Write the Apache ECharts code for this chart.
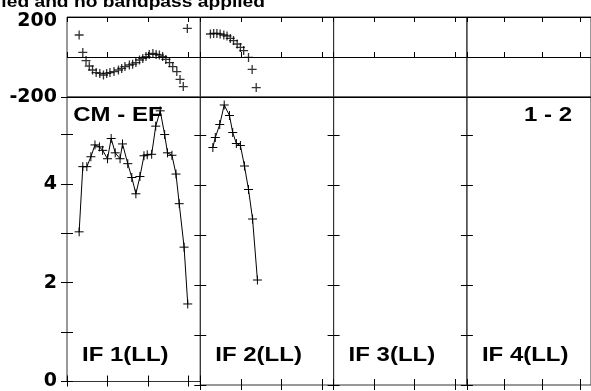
<!DOCTYPE html>
<html><head><meta charset="utf-8">
<script src="https://cdn.jsdelivr.net/npm/echarts@6/dist/echarts.min.js"></script>
<style>html,body{margin:0;padding:0;background:#fff}#c{width:591px;height:391px}</style>
</head><body><div id="c"></div>
<script>
// ---- data ----
const ifLabels = ['IF 1(LL)', 'IF 2(LL)', 'IF 3(LL)', 'IF 4(LL)'];
const baselineLabel = '1 - 2';
const sourceLabel = 'CM - EF';
const titleText = 'No calibration applied and no bandpass applied';

const phaseFreq1 = [0.30,0.39,0.47,0.55,0.63,0.72,0.81,0.90,0.98,1.06,1.16,1.27,1.35,1.43,1.54,1.62,1.70,1.79,1.87,1.95,2.03,2.12,2.20,2.28,2.36,2.44,2.53,2.61,2.71,2.79,2.87,2.97];
const phaseVal1  = [110,23,-18,-45,-65,-78,-82,-90,-82,-78,-73,-65,-57,-48,-40,-36,-28,-15,-7,2,13,18,13,10,2,-12,-28,-48,-73,-112,-148,143];
const phaseFreq2 = [0.25,0.33,0.41,0.49,0.58,0.66,0.74,0.82,0.91,0.99,1.07,1.19,1.28,1.38];
const phaseVal2  = [115,118,118,115,110,105,93,82,65,48,32,-2,-62,-153];

const ampFreq1 = [0.30,0.39,0.49,0.59,0.69,0.80,0.88,1.00,1.09,1.19,1.31,1.37,1.50,1.60,1.70,1.80,1.90,1.98,2.09,2.19,2.30,2.41,2.48,2.59,2.69,2.77,2.89,2.98];
const ampVal1  = [3.03,4.35,4.35,4.55,4.79,4.75,4.68,4.51,4.92,4.63,4.51,4.81,4.41,4.13,3.80,4.15,4.57,4.59,4.60,5.17,5.48,5.00,4.63,4.58,4.20,3.60,2.72,1.57];
const ampFreq2 = [0.31,0.37,0.48,0.59,0.72,0.80,0.89,0.99,1.09,1.19,1.29,1.41];
const ampVal2  = [4.75,4.95,5.21,5.60,5.39,5.05,4.83,4.79,4.38,3.91,3.32,2.10];

const phaseTickValues = [-200, 200];
const ampTickLabelValues = [0, 2, 4];

// ---- layout ----
const L = 67, W = 133.3, PT = 17, PH = 80, AT = 97, AH = 288;
const XMAX = 3.29, AMAX = 5.76;
const plus = 'path://M0,5L10,5M5,0L5,10';
const axisFont = {fontFamily: 'DejaVu Sans', fontWeight: 'bold', fontSize: 19, color: '#000'};

const phaseData = [
  phaseFreq1.map((f, k) => [f, phaseVal1[k]]),
  phaseFreq2.map((f, k) => [f, phaseVal2[k]]),
  [], []
];
const ampData = [
  ampFreq1.map((f, k) => [f, ampVal1[k]]),
  ampFreq2.map((f, k) => [f, ampVal2[k]]),
  [], []
];

const grid = [], xAxis = [], yAxis = [], series = [], graphic = [];
for (let i = 0; i < 4; i++) {
  const left = L + i * W;
  grid.push({left: left, top: PT, width: W, height: PH, show: true, borderColor: '#333', borderWidth: 1, backgroundColor: 'transparent'});
  grid.push({left: left, top: AT, width: W, height: AH, show: true, borderColor: '#333', borderWidth: 1, backgroundColor: 'transparent'});
  const xBase = {type: 'value', min: 0, max: XMAX, interval: 1,
    axisLine: {show: false}, axisLabel: {show: false}, splitLine: {show: false},
    axisTick: {show: true, inside: true, length: 5, lineStyle: {color: '#000', width: 1}}};
  xAxis.push(Object.assign({}, xBase, {gridIndex: 2 * i, position: 'bottom'}));
  xAxis.push(Object.assign({}, xBase, {gridIndex: 2 * i, position: 'top'}));
  xAxis.push(Object.assign({}, xBase, {gridIndex: 2 * i + 1, position: 'top'}));
  xAxis.push(Object.assign({}, xBase, {gridIndex: 2 * i + 1, position: 'bottom', axisTick: {show: true, inside: true, length: 6, lineStyle: {color: '#000', width: 1}}}));

  yAxis.push({type: 'value', gridIndex: 2 * i, min: -200, max: 200, interval: 200, position: 'left',
    axisLine: {show: false}, axisTick: {show: false},
    splitLine: {show: true, lineStyle: {color: '#000', width: 1}},
    axisLabel: Object.assign({show: i === 0, margin: 10, showMinLabel: true, showMaxLabel: true,
      formatter: v => phaseTickValues.indexOf(v) >= 0 ? (v > 0 ? '{t|' + v + '}' : String(v)) : '',
      rich: {t: {fontFamily: 'DejaVu Sans', fontWeight: 'bold', fontSize: 19, color: '#000', padding: [8, 0, 0, 0]}}}, axisFont)});
  const ampBase = {type: 'value', gridIndex: 2 * i + 1, min: 0, max: AMAX, interval: 1,
    axisLine: {show: false}, splitLine: {show: false},
    axisTick: {show: true, inside: true, length: 6, lineStyle: {color: '#000', width: 1}}};
  yAxis.push(Object.assign({}, ampBase, {position: 'left',
    axisLabel: Object.assign({show: i === 0, margin: 10, showMinLabel: true,
      formatter: v => ampTickLabelValues.indexOf(v) >= 0 ? String(v) : ''}, axisFont)}));
  yAxis.push(Object.assign({}, ampBase, {position: 'right', axisLabel: {show: false}}));

  series.push({type: 'scatter', xAxisIndex: 4 * i, yAxisIndex: 3 * i, data: phaseData[i],
    symbol: plus, symbolSize: 9, silent: true,
    itemStyle: {color: '#000', borderColor: '#000', borderWidth: 1.3}});
  series.push({type: 'line', xAxisIndex: 4 * i + 3, yAxisIndex: 3 * i + 1, data: ampData[i],
    symbol: plus, symbolSize: 9, showSymbol: true, silent: true,
    lineStyle: {color: '#000', width: 1},
    itemStyle: {color: '#000', borderColor: '#000', borderWidth: 1}});

  graphic.push({type: 'text', x: left + 15, y: 356, scaleX: 1.23,
    style: {text: ifLabels[i], font: 'bold 19.5px "Liberation Sans"', fill: '#000', textAlign: 'left', textVerticalAlign: 'middle'}});
}
graphic.push({type: 'text', x: 73.3, y: 115.3, scaleX: 1.23,
  style: {text: sourceLabel, font: 'bold 19.5px "Liberation Sans"', fill: '#000', textAlign: 'left', textVerticalAlign: 'middle'}});
graphic.push({type: 'text', x: 572, y: 115.8, scaleX: 1.23,
  style: {text: baselineLabel, font: 'bold 19.5px "Liberation Sans"', fill: '#000', textAlign: 'right', textVerticalAlign: 'middle'}});
graphic.push({type: 'text', x: 265, y: 2.2, scaleX: 1.13,
  style: {text: titleText, font: 'bold 17px "Liberation Sans"', fill: '#000', textAlign: 'right', textVerticalAlign: 'middle'}});

const chart = echarts.init(document.getElementById('c'), null, {renderer: 'canvas'});
chart.setOption({animation: false, backgroundColor: '#fff', grid, xAxis, yAxis, series, graphic});
</script></body></html>
